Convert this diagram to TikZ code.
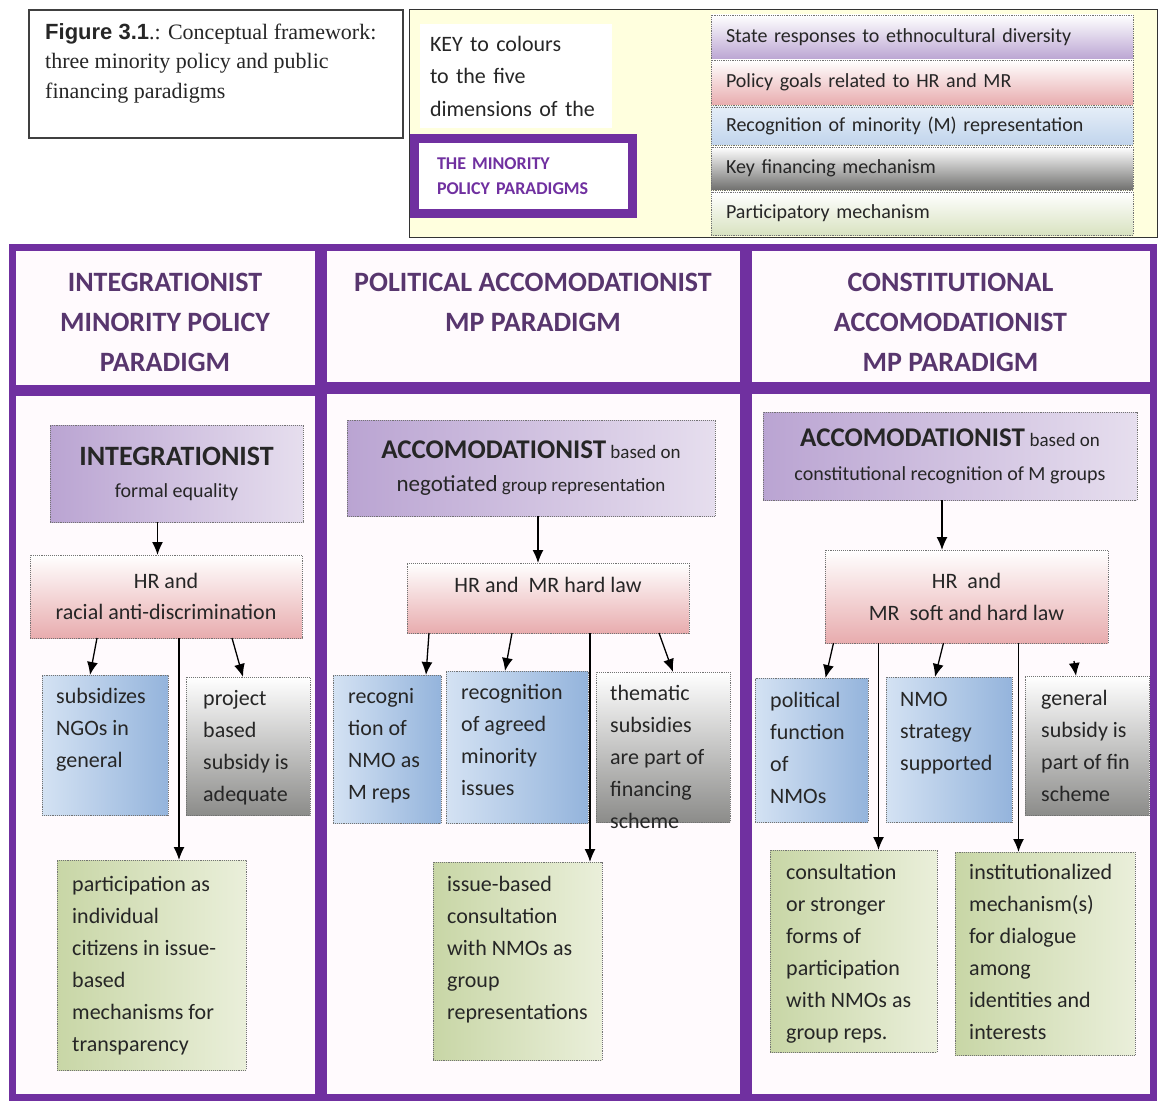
\documentclass[tikz,border=0pt]{standalone}
\usepackage{fontspec}
\setmainfont{Carlito}
\newfontfamily\timesfont{Liberation Serif}
\newfontfamily\arialfont{Liberation Sans}
\usepackage{xcolor}
\usepackage{tikz}
\usetikzlibrary{positioning,arrows.meta}

\definecolor{mpurple}{RGB}{112,48,160}
\definecolor{headtxt}{RGB}{88,54,110}
\definecolor{paper}{RGB}{255,250,253}
\definecolor{keyyellow}{RGB}{255,255,222}
\definecolor{stateL}{RGB}{186,164,210}
\definecolor{stateR}{RGB}{230,222,238}
\definecolor{goalB}{RGB}{232,172,174}
\definecolor{recL}{RGB}{212,226,243}
\definecolor{recR}{RGB}{148,180,220}
\definecolor{finB}{RGB}{140,140,138}
\definecolor{partL}{RGB}{200,214,166}
\definecolor{partR}{RGB}{234,239,218}

\begin{document}
\begin{tikzpicture}[x=1pt, y=-1pt,
  font=\fontsize{22}{32}\selectfont,
  frame/.style={draw=mpurple, line width=7pt, fill=paper, anchor=north west,
                inner sep=0pt, outer sep=0pt},
  cell/.style={draw=black!55, densely dotted, line width=0.9pt, anchor=north west,
               inner sep=0pt, outer sep=0pt, text=black!85},
  stateb/.style={cell, left color=stateL, right color=stateR, align=center},
  goalb/.style ={cell, top color=white, bottom color=goalB, align=center},
  recb/.style  ={cell, left color=recL, right color=recR},
  finb/.style  ={cell, top color=white, bottom color=finB},
  partb/.style ={cell, left color=partL, right color=partR},
  txt/.style={inner sep=0pt, align=left, text=black!85},
  head/.style={font=\fontsize{28}{40}\selectfont\bfseries, text=headtxt,
               align=center, inner sep=0pt},
  strip/.style={anchor=north west, minimum width=422pt, text width=392pt,
                inner xsep=15pt, inner ysep=0pt, outer sep=0pt, align=left,
                font=\fontsize{20}{24}\selectfont, text=black!85,
                draw=black!55, densely dotted, line width=0.8pt},
  arr/.style={-{Latex[length=13pt,width=11pt]}, line width=1.3pt},
]
\useasboundingbox (0,0) rectangle (1159,1102);

% purple frames
\node[frame, minimum width=306pt, minimum height=141pt] (h1) at (12,247) {};
\node[frame, minimum width=420pt, minimum height=138pt] (h2) at (323,247) {};
\node[frame, minimum width=405pt, minimum height=138pt] (h3) at (748,247) {};
\node[frame, minimum width=306pt, minimum height=705pt] (b1) at (12,392) {};
\node[frame, minimum width=420pt, minimum height=707pt] (b2) at (323,390) {};
\node[frame, minimum width=405pt, minimum height=707pt] (b3) at (748,390) {};

\node[head, below=26pt of h1.north] (h1t) {INTEGRATIONIST\\MINORITY POLICY\\PARADIGM};
\node[head, below=26pt of h2.north] (h2t) {POLITICAL ACCOMODATIONIST\\MP PARADIGM};
\node[head, below=26pt of h3.north] (h3t) {CONSTITUTIONAL\\ACCOMODATIONIST\\MP PARADIGM};

% caption
\node[draw=black!75, line width=1.2pt, anchor=north west, outer sep=0pt,
      minimum width=374pt, minimum height=128pt] (cap) at (29,10) {};
\node[txt, below right=13pt and 16pt of cap.north west,
      font=\timesfont\fontsize{22}{29.5}\selectfont] (captxt)
  {{\arialfont\bfseries Figure 3.1}.: Conceptual framework:\\three minority policy and public\\financing paradigms};

% key
\node[draw=black!80, line width=1pt, fill=keyyellow, anchor=north west, outer sep=0pt,
      minimum width=748pt, minimum height=227pt] (key) at (409,10) {};
\node[fill=white, anchor=north west, outer sep=0pt, minimum width=192pt, minimum height=104pt,
      text width=172pt, inner xsep=10pt, align=left, text=black!85,
      font=\fontsize{22}{32.5}\selectfont] (keytxt) at (420,24)
  {KEY to colours\\to the five\\dimensions of the};
\node[draw=mpurple, line width=9pt, fill=white, anchor=north west, outer sep=0pt,
      minimum width=218pt, minimum height=75pt, text width=172pt, inner xsep=23pt,
      align=left, text=mpurple, font=\fontsize{18}{25}\selectfont\bfseries] (keypar) at (414,139)
  {THE MINORITY\\POLICY PARADIGMS};

\node[strip, minimum height=45pt, top color=white, bottom color=stateL] (k1) at (711,15)
  {State responses to ethnocultural diversity};
\node[strip, minimum height=45pt, top color=white, bottom color=goalB, below=0pt of k1] (k2)
  {Policy goals related to HR and MR};
\node[strip, minimum height=38pt, top color=recL!60!white, bottom color=recL!70!recR, below=2pt of k2] (k3)
  {Recognition of minority (M) representation};
\node[strip, minimum height=43pt, top color=white, bottom color=finB!80!black, below=2pt of k3] (k4)
  {Key financing mechanism};
\node[strip, minimum height=43pt, top color=white, bottom color=partL!70!white, below=2pt of k4] (k5)
  {Participatory mechanism};

% integrationist column
\node[stateb, minimum width=253pt, minimum height=97pt, font=\fontsize{20}{32}\selectfont] (a1) at (50,425)
  {{\fontsize{28}{32}\selectfont\bfseries INTEGRATIONIST}\\formal equality};
\node[goalb, minimum width=272pt, minimum height=83pt, font=\fontsize{22}{31}\selectfont] (p1) at (30,555)
  {HR and\\racial anti-discrimination};
\node[recb, minimum width=126pt, minimum height=140pt] (r1) at (42,675) {};
\node[txt, below right=13pt and 14pt of r1.north west] (r1t) {subsidizes\\NGOs in\\general};
\node[finb, minimum width=124pt, minimum height=138pt] (f1) at (186,677) {};
\node[txt, below right=13pt and 17pt of f1.north west] (f1t) {project\\based\\subsidy is\\adequate};
\node[partb, minimum width=189pt, minimum height=210pt] (g1) at (57,860) {};
\node[txt, below right=16pt and 15pt of g1.north west] (g1t)
  {participation as\\individual\\citizens in issue-\\based\\mechanisms for\\transparency};

\coordinate (a1o) at ([xshift=-19pt]a1.south);
\draw[arr] (a1o) -- (a1o |- p1.north);
\draw[arr] ([xshift=-69pt]p1.south) -- ([xshift=-15pt]r1.north);
\draw[arr] ([xshift=66pt]p1.south) -- ([xshift=-5pt]f1.north);
\coordinate (p1o) at ([xshift=13pt]p1.south);
\draw[arr] (p1o) -- (p1o |- g1.north);

% political accomodationist column
\node[stateb, minimum width=368pt, minimum height=96pt, font=\fontsize{19}{33}\selectfont] (a2) at (347,420)
  {{\fontsize{27}{33}\selectfont\bfseries ACCOMODATIONIST} based on\\{\fontsize{23}{33}\selectfont negotiated} group representation};
\node[goalb, minimum width=282pt, minimum height=70pt, text depth=26pt] (p2) at (407,563)
  {HR and\ \ MR hard law};
\node[recb, minimum width=108pt, minimum height=148pt] (r2a) at (333,675) {};
\node[txt, below right=13pt and 15pt of r2a.north west] (r2at) {recogni\\tion of\\NMO as\\M reps};
\node[recb, minimum width=142pt, minimum height=152pt] (r2b) at (446,671) {};
\node[txt, below right=13pt and 15pt of r2b.north west] (r2bt) {recognition\\of agreed\\minority\\issues};
\node[finb, minimum width=134pt, minimum height=150pt] (f2) at (596,672) {};
\node[txt, below right=13pt and 14pt of f2.north west] (f2t) {thematic\\subsidies\\are part of\\financing\\scheme};
\node[partb, minimum width=169pt, minimum height=198pt] (g2) at (433,862) {};
\node[txt, below right=14pt and 14pt of g2.north west] (g2t)
  {issue-based\\consultation\\with NMOs as\\group\\representations};

\coordinate (a2o) at ([xshift=7pt]a2.south);
\draw[arr] (a2o) -- (a2o |- p2.north);
\draw[arr] ([xshift=-119pt]p2.south) -- ([xshift=39pt]r2a.north);
\draw[arr] ([xshift=-36pt]p2.south) -- ([xshift=-12pt]r2b.north);
\draw[arr] ([xshift=111pt]p2.south) -- ([xshift=10pt]f2.north);
\coordinate (p2o) at ([xshift=42pt]p2.south);
\draw[arr] (p2o) -- (p2o |- g2.north);

% constitutional accomodationist column
\node[stateb, minimum width=374pt, minimum height=88pt, font=\fontsize{20}{34}\selectfont] (a3) at (763,412)
  {{\fontsize{27}{34}\selectfont\bfseries ACCOMODATIONIST} {\fontsize{19}{34}\selectfont based on}\\constitutional recognition of M groups};
\node[goalb, minimum width=283pt, minimum height=93pt, font=\fontsize{22}{32}\selectfont] (p3) at (825,550)
  {HR\ \ and\\MR\ \ soft and hard law};
\node[recb, minimum width=113pt, minimum height=144pt] (r3a) at (755,678) {};
\node[txt, below right=14pt and 15pt of r3a.north west] (r3at) {political\\function\\of\\NMOs};
\node[recb, minimum width=126pt, minimum height=145pt] (r3b) at (886,677) {};
\node[txt, below right=15pt and 14pt of r3b.north west] (r3bt) {NMO\\strategy\\supported};
\node[finb, minimum width=124pt, minimum height=139pt] (f3) at (1025,676) {};
\node[txt, below right=14pt and 16pt of f3.north west] (f3t) {general\\subsidy is\\part of fin\\scheme};
\node[partb, minimum width=167pt, minimum height=202pt] (g3a) at (770,850) {};
\node[txt, below right=14pt and 16pt of g3a.north west] (g3at)
  {consultation\\or stronger\\forms of\\participation\\with NMOs as\\group reps.};
\node[partb, minimum width=180pt, minimum height=203pt] (g3b) at (955,852) {};
\node[txt, below right=12pt and 14pt of g3b.north west] (g3bt)
  {institutionalized\\mechanism(s)\\for dialogue\\among\\identities and\\interests};

\coordinate (a3o) at ([xshift=-8pt]a3.south);
\draw[arr] (a3o) -- (a3o |- p3.north);
\draw[arr] ([xshift=-133pt]p3.south) -- ([xshift=14pt]r3a.north);
\draw[arr] ([xshift=-23pt]p3.south) -- ([xshift=-14pt]r3b.north);
\coordinate (p3l) at ([xshift=-88pt]p3.south);
\draw[arr] (p3l) -- (p3l |- g3a.north);
\coordinate (p3r) at ([xshift=52pt]p3.south);
\draw[arr] (p3r) -- (p3r |- g3b.north);
\coordinate (f3in) at (1074,661);
\draw[arr] (f3in) -- ([xshift=-11pt]f3.north);

\end{tikzpicture}
\end{document}
